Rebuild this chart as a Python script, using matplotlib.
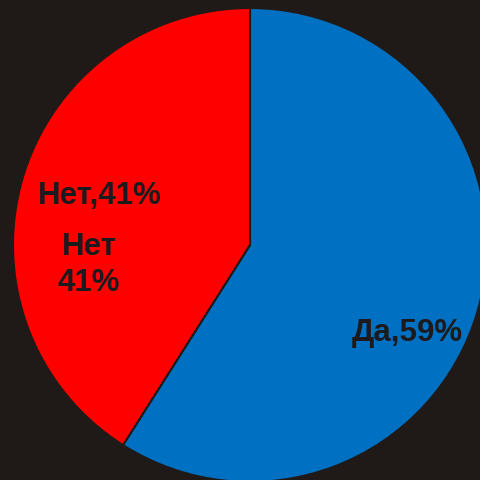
import matplotlib.pyplot as plt

labels = ["Да", "Нет"]
shares = [59, 41]
colors = ["#0070C2", "#FF0000"]

BG = "#1f1a17"
TEXT = "#1c1a1c"


def main():
    plt.rcParams["font.family"] = ["Liberation Sans", "DejaVu Sans"]

    fig = plt.figure(figsize=(4.81, 4.80), dpi=100, facecolor=BG)
    ax = fig.add_axes([0, 0, 1, 1])
    ax.set_facecolor(BG)

    ax.pie(
        shares,
        colors=colors,
        startangle=90,
        counterclock=False,
        center=(250, 235),
        radius=237,
        wedgeprops=dict(edgecolor=BG, linewidth=1.5),
        frame=True,
    )

    ax.set_xlim(0, 481)
    ax.set_ylim(0, 480)
    ax.set_aspect("equal")
    ax.axis("off")

    font = dict(fontsize=22.5, fontweight="bold", color=TEXT)
    ax.text(407, 147, f"{labels[0]},{shares[0]}%", ha="center", va="center", **font)
    ax.text(100, 284, f"{labels[1]},{shares[1]}%", ha="center", va="center", **font)
    ax.text(89, 215, f"{labels[1]}\n{shares[1]}%", ha="center", va="center",
            linespacing=1.3, **font)

    fig.savefig("out.png", dpi=100, facecolor=BG)


if __name__ == "__main__":
    main()
